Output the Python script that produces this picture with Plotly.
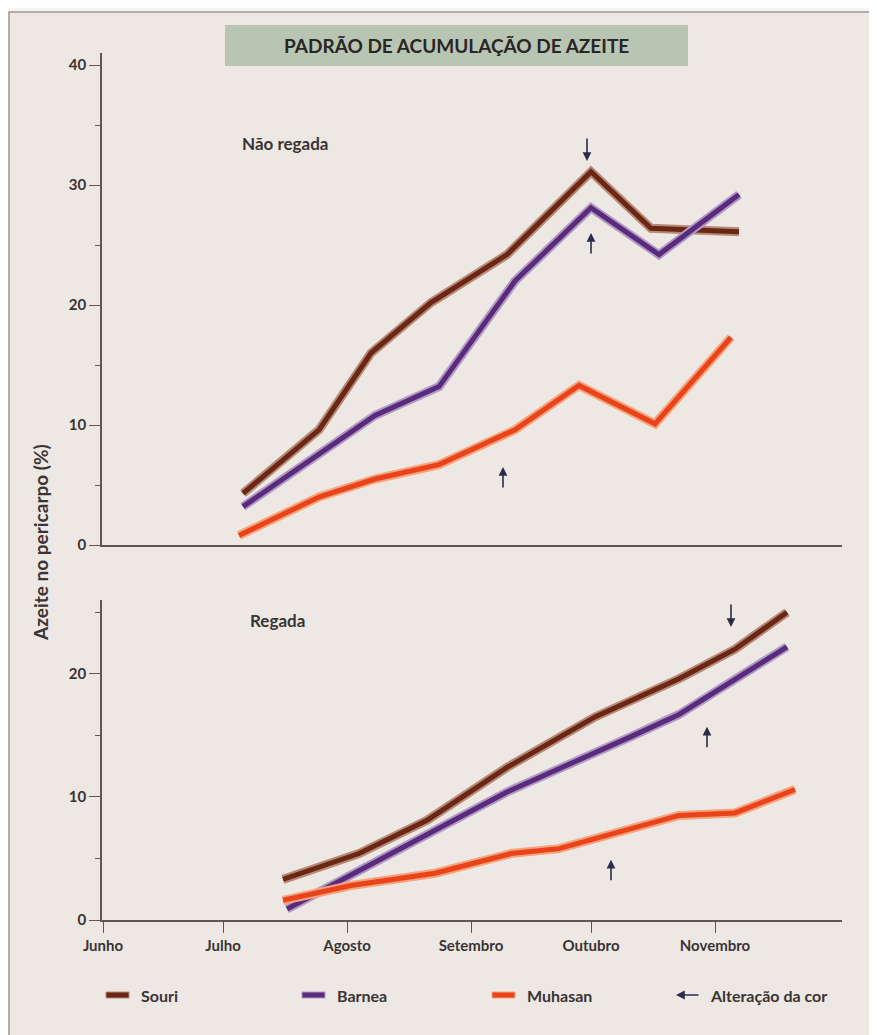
import plotly.graph_objects as go
from plotly.subplots import make_subplots

# ---------------- data ----------------
months_tickvals = ["2001-06-01", "2001-07-01", "2001-08-01", "2001-09-01", "2001-10-01", "2001-11-01"]
months_ticktext = ["Junho", "Julho", "Agosto", "Setembro", "Outubro", "Novembro"]

# Não regada (top panel)
souri_nr_dates = ["2001-07-06", "2001-07-25", "2001-08-07", "2001-08-22", "2001-09-10", "2001-10-01", "2001-10-16", "2001-11-07"]
souri_nr = [4.3, 9.6, 16.0, 20.2, 24.2, 31.1, 26.4, 26.1]
barnea_nr_dates = ["2001-07-06", "2001-08-08", "2001-08-24", "2001-09-12", "2001-10-01", "2001-10-18", "2001-11-07"]
barnea_nr = [3.2, 10.8, 13.2, 22.0, 28.1, 24.2, 29.2]
muhasan_nr_dates = ["2001-07-05", "2001-07-25", "2001-08-08", "2001-08-24", "2001-09-12", "2001-09-28", "2001-10-17", "2001-11-05"]
muhasan_nr = [0.8, 4.0, 5.5, 6.7, 9.6, 13.3, 10.1, 17.3]

# Regada (bottom panel)
souri_r_dates = ["2001-07-16", "2001-08-04", "2001-08-21", "2001-09-10", "2001-10-02", "2001-10-23", "2001-11-06", "2001-11-19"]
souri_r = [3.3, 5.4, 8.1, 12.4, 16.5, 19.6, 22.0, 25.0]
barnea_r_dates = ["2001-07-17", "2001-09-10", "2001-10-11", "2001-10-23", "2001-11-19"]
barnea_r = [0.9, 10.4, 14.9, 16.7, 22.2]
muhasan_r_dates = ["2001-07-16", "2001-08-02", "2001-08-23", "2001-09-11", "2001-09-23", "2001-10-07", "2001-10-23", "2001-11-06", "2001-11-21"]
muhasan_r = [1.6, 2.8, 3.8, 5.4, 5.8, 7.1, 8.5, 8.7, 10.6]

# colour-change arrows: (date, head value, direction)
arrows_nr_dates = ["2001-09-30", "2001-10-01", "2001-09-09"]
arrows_nr_values = [32.0, 26.0, 6.5]
arrows_nr_dirs = ["down", "up", "up"]
arrows_r_dates = ["2001-11-05", "2001-10-30", "2001-10-06"]
arrows_r_values = [23.8, 15.7, 4.9]
arrows_r_dirs = ["down", "up", "up"]

series_names = ["Souri", "Barnea", "Muhasan"]
legend_arrow_text = "Alteração da cor"
title_text = "PADRÃO DE ACUMULAÇÃO DE AZEITE"
panel_labels = ["Não regada", "Regada"]
y_title = "Azeite no pericarpo (%)"

# ---------------- styling ----------------
W, H = 877, 1035
OFF = 8  # page body margin
BG = "#ede8e4"
OUT_BG = "#f6f4f2"
TXT = "#3a3433"
AXC = "#5d5856"
ARROWC = "#2b2c48"
FONT = "Lato, 'Open Sans', sans-serif"
main_cols = {"Souri": "#6a2716", "Barnea": "#5a2b7c", "Muhasan": "#e8431a"}
soft_cols = {"Souri": "#b88a76", "Barnea": "#b09ac4", "Muhasan": "#f6a27a"}


def px_x(p):
    return (p - OFF) / W


def px_y(p):
    return 1 - (p - OFF) / H


fig = make_subplots(rows=2, cols=1, shared_xaxes=False, vertical_spacing=0.05)

panels = [
    (1, [(souri_nr_dates, souri_nr), (barnea_nr_dates, barnea_nr), (muhasan_nr_dates, muhasan_nr)]),
    (2, [(souri_r_dates, souri_r), (barnea_r_dates, barnea_r), (muhasan_r_dates, muhasan_r)]),
]
for row, data in panels:
    for name, (xs, ys) in zip(series_names, data):
        fig.add_trace(go.Scatter(x=xs, y=ys, mode="lines", showlegend=False, hoverinfo="skip",
                                 line=dict(color=soft_cols[name], width=9)), row=row, col=1)
        fig.add_trace(go.Scatter(x=xs, y=ys, mode="lines", name=name, showlegend=False,
                                 line=dict(color=main_cols[name], width=5)), row=row, col=1)

x_dom = [px_x(102), px_x(842)]
x_range = ["2001-05-31 18:00", "2001-12-02 18:00"]
common_x = dict(type="date", range=x_range, domain=x_dom, showgrid=False, zeroline=False, automargin=False,
                showline=True, linecolor=AXC, linewidth=1.5, tickvals=months_tickvals, ticktext=months_ticktext)
fig.update_xaxes(**common_x, row=1, col=1)
fig.update_xaxes(showticklabels=False, ticks="", row=1, col=1)
fig.update_xaxes(**common_x, row=2, col=1)
fig.update_xaxes(ticks="outside", ticklen=11, tickwidth=1.3, tickcolor=AXC,
                 tickfont=dict(family=FONT, size=15, color=TXT, weight="bold"), row=2, col=1)

common_y = dict(showgrid=False, zeroline=False, showline=True, linecolor=AXC, linewidth=1.5, automargin=False,
                ticks="outside", ticklen=11, tickwidth=1.3, tickcolor=AXC, dtick=10,
                tickfont=dict(family=FONT, size=15, color=TXT, weight="bold"),
                minor=dict(dtick=5, ticks="outside", ticklen=5, tickcolor=AXC, tickwidth=1.1))
fig.update_yaxes(**common_y, range=[0, 41], domain=[px_y(545), px_y(53)], row=1, col=1)
fig.update_yaxes(**common_y, range=[0, 26], domain=[px_y(920), px_y(600)], row=2, col=1)

# colour-change arrows
for xref, yref, ds, vs, dirs in [("x", "y", arrows_nr_dates, arrows_nr_values, arrows_nr_dirs),
                                 ("x2", "y2", arrows_r_dates, arrows_r_values, arrows_r_dirs)]:
    for d, v, dr in zip(ds, vs, dirs):
        fig.add_annotation(x=d, y=v, xref=xref, yref=yref, text="", showarrow=True,
                           ax=0, ay=(-24 if dr == "down" else 22), arrowhead=2, arrowsize=1.1,
                           arrowwidth=1.6, arrowcolor=ARROWC)

shapes = []
# outer frame
shapes.append(dict(type="rect", xref="paper", yref="paper", x0=px_x(9), x1=px_x(900), y0=px_y(1060), y1=px_y(12),
                   fillcolor=BG, line=dict(color="#9c9794", width=1.5), layer="below"))
# title box
shapes.append(dict(type="rect", xref="paper", yref="paper", x0=px_x(225), x1=px_x(688), y0=px_y(66), y1=px_y(25),
                   fillcolor="#b8c5b3", line=dict(width=0), layer="below"))


def label(x, y, text, size, xanchor="left", angle=0, color=TXT):
    fig.add_annotation(xref="paper", yref="paper", x=px_x(x), y=px_y(y), xanchor=xanchor, yanchor="middle",
                       text=text, showarrow=False, textangle=angle,
                       font=dict(family=FONT, size=size, color=color, weight="bold"))


label(456, 46, title_text, 19, xanchor="center", color="#2a2626")
label(240, 143, panel_labels[0], 17)
label(248, 620, panel_labels[1], 17)
label(40, 543, y_title, 19, xanchor="center", angle=-90)

# legend (manual)
leg_y = 995
leg_x = [106, 302, 492]
for name, lx in zip(series_names, leg_x):
    shapes.append(dict(type="rect", xref="paper", yref="paper", x0=px_x(lx), x1=px_x(lx + 23),
                       y0=px_y(leg_y + 3), y1=px_y(leg_y - 3), fillcolor=main_cols[name],
                       line=dict(color=soft_cols[name], width=1)))
    label(lx + 33, leg_y, name, 16)
fig.add_annotation(xref="paper", yref="paper", x=px_x(676), y=px_y(leg_y), ax=24, ay=0, text="",
                   showarrow=True, arrowhead=2, arrowsize=1.1, arrowwidth=1.6, arrowcolor=ARROWC)
label(708, leg_y, legend_arrow_text, 16)

fig.update_layout(width=W, height=H, margin=dict(l=0, r=0, t=0, b=0, autoexpand=False), paper_bgcolor=OUT_BG,
                  plot_bgcolor="rgba(0,0,0,0)", shapes=shapes, showlegend=False)

fig.write_html("out.html")
